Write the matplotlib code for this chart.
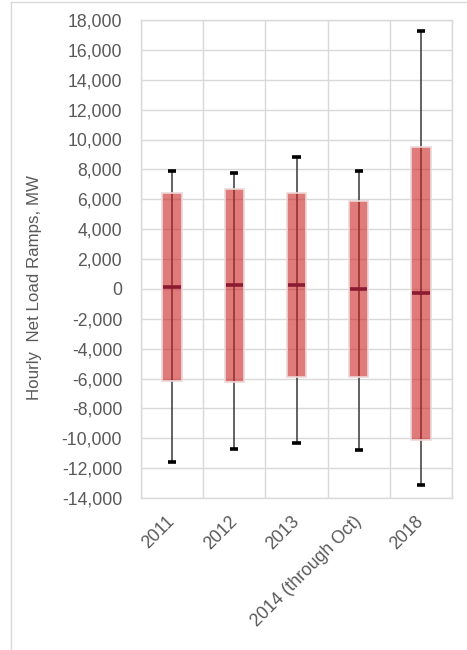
import matplotlib
matplotlib.use("Agg")
import matplotlib.pyplot as plt
from matplotlib.lines import Line2D
import numpy as np

# values (MW)
years = ['2011', '2012', '2013', '2014 (through Oct)', '2018']
whisker_low = [-11600, -10700, -10350, -10800, -13100]
box_low = [-6200, -6250, -5900, -5900, -10150]
median = [100, 250, 250, 0, -300]
box_high = [6450, 6700, 6450, 5900, 9500]
whisker_high = [7900, 7750, 8800, 7900, 17250]

plt.rcParams['font.family'] = ['Liberation Sans', 'DejaVu Sans']
grid_col = '#d9d9d9'
text_col = '#595959'

fig = plt.figure(figsize=(4.67, 6.5), dpi=100)
ax = fig.add_axes([141/467, 1 - 498/650, 311/467, 478/650])

x = np.arange(len(years))
lo = np.array(box_low)
hi = np.array(box_high)

# whisker line runs through the whole box, box is see-through on top
ax.vlines(x, whisker_low, whisker_high, color='#383838', lw=1.1, zorder=2)
ax.hlines(median, x - 0.14, x + 0.14, color='#2a1048', lw=2.6, zorder=2)
ax.bar(x, hi - lo, bottom=lo, width=0.31,
       facecolor=(203/255, 35/255, 35/255, 0.6),
       edgecolor='#eed8d8', lw=1.2, zorder=3)
ax.hlines(whisker_high, x - 0.065, x + 0.065, color='black', lw=2.6, zorder=4)
ax.hlines(whisker_low, x - 0.065, x + 0.065, color='black', lw=2.6, zorder=4)

ax.set_xlim(-0.5, len(years) - 0.5)
ax.set_ylim(-14000, 18000)
ax.set_yticks(np.arange(-14000, 18001, 2000))
ax.yaxis.set_major_formatter(matplotlib.ticker.FuncFormatter(lambda v, p: f'{v:,.0f}'))
ax.set_xticks(x)
ax.set_xticklabels(years, rotation=45, ha='right', va='center', rotation_mode='anchor')
ax.set_xticks(np.arange(-0.5, len(years), 1), minor=True)

ax.grid(axis='y', which='major', color=grid_col, lw=1, zorder=0)
ax.grid(axis='x', which='minor', color=grid_col, lw=1, zorder=0)
ax.tick_params(axis='both', which='both', length=0, labelsize=12.7, colors=text_col)
ax.tick_params(axis='y', pad=13.5)
ax.tick_params(axis='x', pad=15)
for s in ax.spines.values():
    s.set_color(grid_col)
    s.set_linewidth(1)

ax.set_ylabel('Hourly  Net Load Ramps, MW', fontsize=12.2, color=text_col)
ax.yaxis.set_label_coords(-0.318, 0.44)

# chart frame
fig.add_artist(Line2D([11/467, 11/467], [0, 1 - 2/650], color=grid_col, lw=1))
fig.add_artist(Line2D([11/467, 1], [1 - 2/650, 1 - 2/650], color=grid_col, lw=1))

fig.savefig('out.png', dpi=100)
